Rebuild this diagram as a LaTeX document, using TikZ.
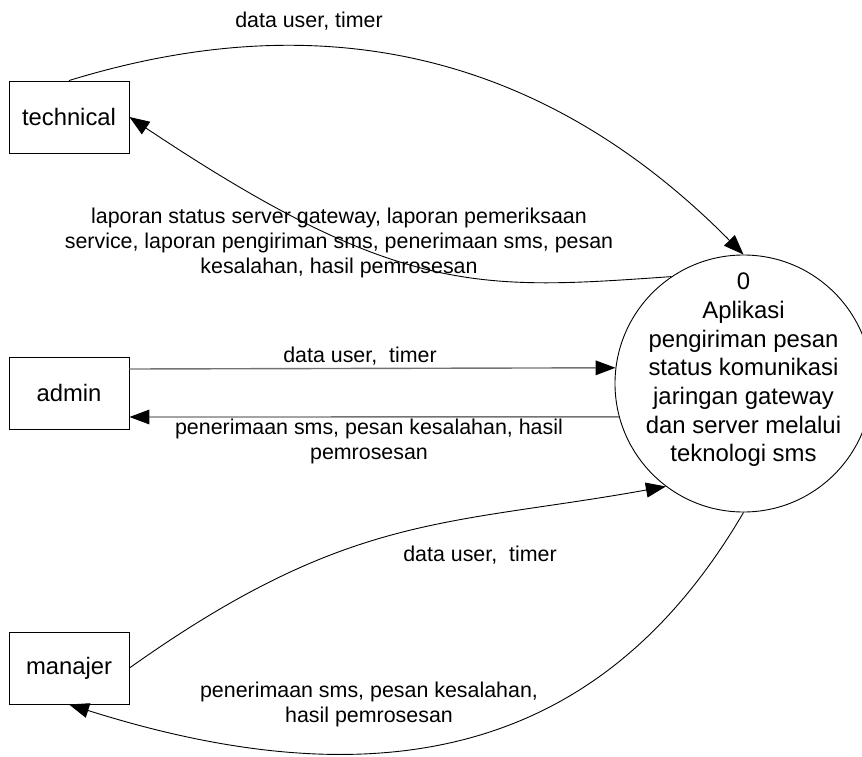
\documentclass[tikz,border=0pt]{standalone}
\usepackage{fontspec}
\setmainfont{Liberation Sans}
\usetikzlibrary{arrows.meta}
\begin{document}
\begin{tikzpicture}[x=1pt,y=-1pt,
  entity/.style={draw,line width=0.9pt,minimum width=120pt,minimum height=72pt,inner sep=0pt,font=\fontsize{23.8}{28.6}\selectfont},
  proccircle/.style={draw,circle,line width=0.9pt,minimum size=257pt,inner sep=0pt},
  proctxt/.style={align=center,inner sep=0pt,font=\fontsize{23.9}{28.7}\selectfont},
  flowlbl/.style={align=center,inner sep=0pt,font=\fontsize{21.4}{25}\selectfont},
  flow/.style={line width=0.9pt,-{Triangle[length=20pt,width=15pt]}},
  hflow/.style={draw=black!55,line width=1.4pt,-{Triangle[length=20pt,width=15pt,line width=0pt,color=black,fill=black]}}
]
\useasboundingbox (0,0) rectangle (862,757);
\node[entity] (tech) at (69,117) {technical};
\node[entity] (admin) at (69,393) {admin};
\node[entity] (manajer) at (69,668) {manajer};
\node[proccircle] (proc) at (743.5,383.5) {};
\node[proctxt] (proctext) at (743.5,370) {0\\Aplikasi\\pengiriman pesan\\status komunikasi\\jaringan gateway\\dan server melalui\\teknologi sms};

% technical flows
\draw[flow] (tech.north) .. controls (321,3) and (543,52) .. (proc.north);
\draw[flow] (proc.124) .. controls (480,290) and (399,297) .. (tech.east);
\node[flowlbl] (l1) at (309,21) {data user, timer};
\node[flowlbl] (l2) at (339,243) {laporan status server gateway, laporan pemeriksaan\\service, laporan pengiriman sms, penerimaan sms, pesan\\kesalahan, hasil pemrosesan};

% admin flows
\draw[hflow] ([yshift=24pt]admin.east) -- (proc.173.5);
\draw[hflow] (proc.195.1) -- ([yshift=-24pt]admin.east);
\node[flowlbl] (l3) at (360,356) {data user,\ \ timer};
\node[flowlbl] (l4) at (369,441) {penerimaan sms, pesan kesalahan, hasil\\pemrosesan};

% manajer flows
\draw[flow] (manajer.east) .. controls (349,512) and (446,526) .. (proc.233);
\draw[flow] (proc.south) .. controls (615,732) and (412,813) .. (manajer.south);
\node[flowlbl] (l5) at (480,555) {data user,\ \ timer};
\node[flowlbl] (l6) at (369,704) {penerimaan sms, pesan kesalahan,\\hasil pemrosesan};
\end{tikzpicture}
\end{document}
